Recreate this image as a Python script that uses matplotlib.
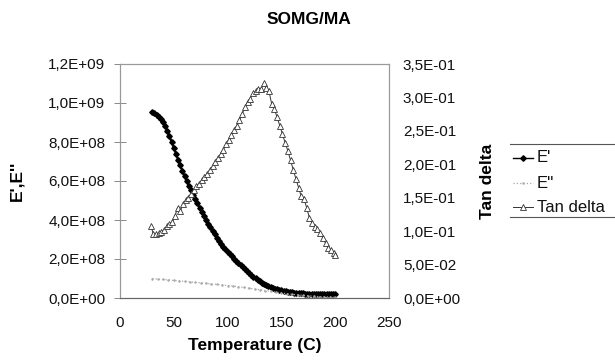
import matplotlib
matplotlib.use("Agg")
import matplotlib.pyplot as plt
from matplotlib.lines import Line2D
from matplotlib.ticker import FuncFormatter

plt.rcParams['font.family'] = ['Liberation Sans', 'DejaVu Sans']

# ---- data ----
temp_e = [30, 32, 34, 36, 38, 40, 42, 44, 46, 48, 50, 52, 54, 56, 58, 60, 62, 64, 66, 68,
          70, 72, 74, 76, 78, 80, 82, 84, 86, 88, 90, 92, 94, 96, 98, 100, 102, 104, 106, 108,
          110, 112, 114, 116, 118, 120, 122, 124, 126, 128, 130, 132, 134, 136, 138, 140, 142, 144, 146, 148,
          150, 152, 154, 156, 158, 160, 162, 164, 166, 168, 170, 172, 174, 176, 178, 180, 182, 184, 186, 188,
          190, 192, 194, 196, 198, 200]
e_prime = [0.955, 0.948, 0.940, 0.930, 0.918, 0.902, 0.882, 0.858, 0.830, 0.800,
           0.770, 0.740, 0.710, 0.680, 0.652, 0.625, 0.599, 0.575, 0.552, 0.530,
           0.508, 0.486, 0.464, 0.442, 0.420, 0.400, 0.381, 0.362, 0.344, 0.327,
           0.310, 0.294, 0.279, 0.264, 0.250, 0.237, 0.225, 0.213, 0.201, 0.189,
           0.178, 0.167, 0.157, 0.147, 0.137, 0.128, 0.119, 0.110, 0.102, 0.094,
           0.086, 0.079, 0.073, 0.067, 0.061, 0.056, 0.052, 0.048, 0.044, 0.041,
           0.039, 0.037, 0.035, 0.033, 0.031, 0.029, 0.028, 0.027, 0.026, 0.025,
           0.024, 0.023, 0.023, 0.022, 0.022, 0.021, 0.021, 0.021, 0.020, 0.020,
           0.020, 0.020, 0.019, 0.019, 0.019, 0.019]
e_prime = [v * 1e9 for v in e_prime]

temp_e2 = [30, 35, 40, 45, 50, 55, 60, 65, 70, 75, 80, 85, 90, 95, 100, 105, 110, 115,
           120, 125, 130, 135, 140, 145, 150, 155, 160, 165, 170, 175, 180, 185, 190, 195, 200]
e_double = [0.100, 0.097, 0.095, 0.093, 0.090, 0.088, 0.085, 0.083, 0.080, 0.078, 0.075,
            0.072, 0.070, 0.067, 0.064, 0.061, 0.058, 0.054, 0.050, 0.046, 0.042, 0.038,
            0.034, 0.030, 0.026, 0.022, 0.019, 0.016, 0.013, 0.011, 0.009, 0.007, 0.006,
            0.005, 0.004]
e_double = [v * 1e9 for v in e_double]

temp_t = [29, 31, 33.5, 36, 38.5, 41, 43.5, 46, 48.5, 51, 53.5, 56, 58.5, 61, 63.5, 66,
          68.5, 71, 73.5, 76, 78.5, 81, 83.5, 86, 88.5, 91, 93.5, 96, 98.5, 101, 103.5, 106,
          108.5, 111, 113.5, 116, 118.5, 121, 123.5, 126, 128.5, 131, 133.5, 136, 138.5, 141,
          143.5, 146, 148.5, 151, 153.5, 156, 158.5, 161, 163.5, 166, 168.5, 171, 173.5, 176,
          178.5, 181, 183.5, 186, 188.5, 191, 193.5, 196, 198.5, 200]
tan_delta = [0.107, 0.095, 0.096, 0.097, 0.099, 0.102, 0.107, 0.111, 0.113, 0.122, 0.135,
             0.130, 0.140, 0.146, 0.150, 0.156, 0.162, 0.168, 0.171, 0.176, 0.181, 0.186,
             0.192, 0.197, 0.204, 0.210, 0.215, 0.222, 0.230, 0.237, 0.244, 0.251, 0.258,
             0.266, 0.275, 0.285, 0.293, 0.298, 0.306, 0.309, 0.313, 0.312, 0.321, 0.314,
             0.309, 0.290, 0.283, 0.270, 0.258, 0.245, 0.232, 0.220, 0.206, 0.192, 0.178,
             0.165, 0.152, 0.148, 0.135, 0.120, 0.112, 0.106, 0.103, 0.097, 0.090, 0.082,
             0.075, 0.072, 0.067, 0.064]

left_ticks = [0, 2e8, 4e8, 6e8, 8e8, 1e9, 1.2e9]
right_ticks = [0, 0.05, 0.10, 0.15, 0.20, 0.25, 0.30, 0.35]
x_ticks = [0, 50, 100, 150, 200, 250]
legend_labels = ["E'", "E''", "Tan delta"]

# ---- figure ----
W, H = 615, 364
fig = plt.figure(figsize=(W / 100, H / 100), dpi=100)


def fx(px):
    return px / W


def fy(py):
    return 1 - py / H


AX_L, AX_R, AX_T, AX_B = 120, 389, 64, 298
ax = fig.add_axes([fx(AX_L), fy(AX_B), fx(AX_R) - fx(AX_L), fy(AX_T) - fy(AX_B)])
ax2 = ax.twinx()


def sci_comma(v, pos):
    return ("%.1E" % v).replace(".", ",")


st_e1 = dict(color='black', lw=1.6, marker='D', markersize=2.8,
             markerfacecolor='black', markeredgecolor='black')
st_e2 = dict(color='#a8a8a8', lw=0.9, ls=':', marker='.', markersize=1.5)
st_t = dict(color='#333333', lw=0.7, marker='^', markersize=4.2,
            markerfacecolor='white', markeredgecolor='#333333', markeredgewidth=0.6)

ax.plot(temp_e, e_prime, **st_e1)
ax.plot(temp_e2, e_double, **st_e2)
ax2.plot(temp_t, tan_delta, **st_t)

ax.set_xlim(0, 250)
ax.set_ylim(0, 1.2e9)
ax2.set_ylim(0, 0.35)
ax.set_xticks(x_ticks)
ax.set_yticks(left_ticks)
ax2.set_yticks(right_ticks)
ax.yaxis.set_major_formatter(FuncFormatter(sci_comma))
ax2.yaxis.set_major_formatter(FuncFormatter(sci_comma))

for a in (ax, ax2):
    a.tick_params(labelsize=11, length=8, width=0.7, direction='inout',
                  colors='#888888', labelcolor='#111111')
    for s in a.spines.values():
        s.set_color('#999999')
        s.set_linewidth(0.8)
    a.spines['bottom'].set_color('#666666')
ax.tick_params(axis='x', length=0, pad=13)
ax.tick_params(axis='y', pad=6.5)
ax2.tick_params(axis='y', length=0, pad=10)

AXW = AX_R - AX_L
AXH = AX_B - AX_T
ax.set_xlabel('Temperature (C)', fontsize=12.5, fontweight='bold', va='center')
ax.xaxis.set_label_coords(0.5, (AX_B - 345.5) / AXH)
ax.set_ylabel("E',E''", fontsize=12.5, fontweight='bold', va='center')
ax.yaxis.set_label_coords((17 - AX_L) / AXW, 0.5)
ax2.set_ylabel('Tan delta', fontsize=12.5, fontweight='bold', va='center')
ax2.yaxis.set_label_coords((488 - AX_L) / AXW, 0.5)
fig.text(fx(309), fy(20), 'SOMG/MA', ha='center', va='center', fontsize=12.5, fontweight='bold')

# legend (manual)
fig.add_artist(Line2D([fx(510), 1.0], [fy(144), fy(144)], color='#555555', lw=0.8))
fig.add_artist(Line2D([fx(510), 1.0], [fy(217), fy(217)], color='#555555', lw=0.8))
for py, lab, st in zip([158, 183, 207], legend_labels, [st_e1, st_e2, st_t]):
    s = dict(st)
    s['lw'] = min(s['lw'], 1.0)
    fig.add_artist(Line2D([fx(513), fx(523), fx(533)], [fy(py)] * 3,
                          markevery=[1], **s))
    fig.text(fx(537), fy(py), lab, ha='left', va='center', fontsize=12, color='#111111')

fig.savefig('out.png', dpi=100, facecolor='white')
